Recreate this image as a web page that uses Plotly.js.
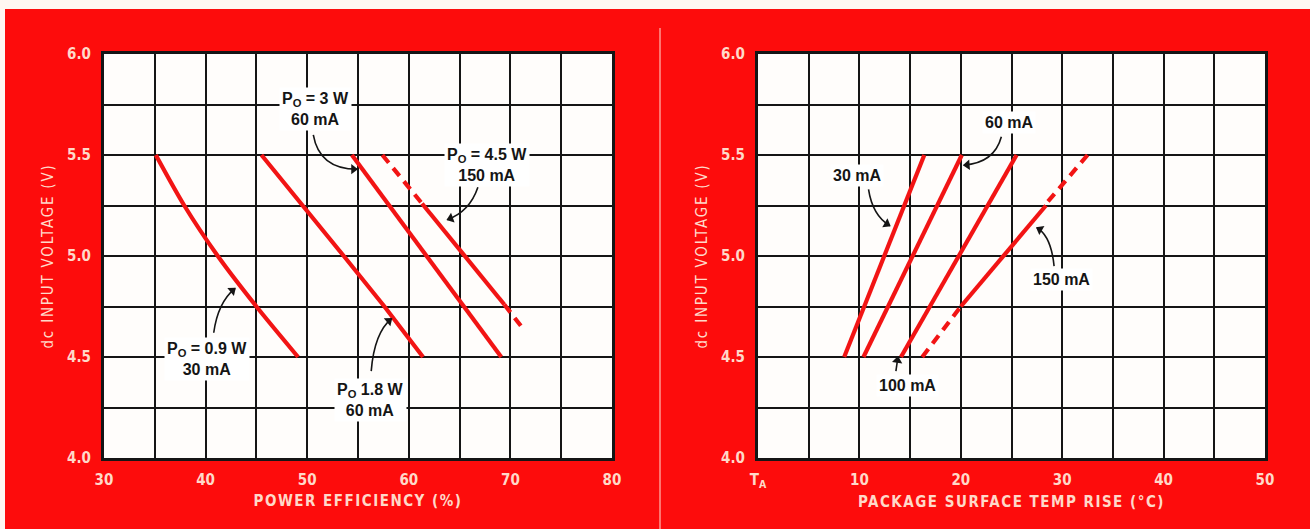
<!DOCTYPE html>
<html>
<head>
<meta charset="utf-8">
<script src="https://cdn.plot.ly/plotly-3.0.1.min.js"></script>
<style>
  html, body { margin: 0; padding: 0; background: #ffffff; }
  #chart { width: 1310px; height: 529px; }
  .xtitle, .x2title { letter-spacing: 1.5px; }
  .ytitle, .y2title { letter-spacing: 1.8px; }
</style>
</head>
<body>
<div id="chart"></div>
<script>
// ---------- Data ----------
// Left panel: dc input voltage vs power efficiency (%)
const voltLevels   = [5.5, 5.25, 5.0, 4.75, 4.5];
const eff_09W      = [35.1, 37.9, 41.2, 45.0, 49.1];       // Po = 0.9 W, 30 mA
const eff_18W      = [45.5, 49.6, 53.6, 57.6, 61.4];       // Po = 1.8 W, 60 mA
const eff_3W       = [54.4, 58.1, 61.8, 65.5, 69.1];       // Po = 3 W, 60 mA
const eff_45W_dashTopX = [57.4, 61.3];  const eff_45W_dashTopY = [5.5, 5.26];
const eff_45W_solidX   = [61.3, 69.4];  const eff_45W_solidY   = [5.26, 4.76];
const eff_45W_dashBotX = [69.4, 71.4];  const eff_45W_dashBotY = [4.76, 4.63];

// Right panel: dc input voltage vs package surface temp rise (°C)
const tempVolt     = [4.5, 5.5];
const temp_30mA    = [8.5, 16.4];
const temp_60mA    = [10.4, 20.1];
const temp_100mA   = [14.1, 25.5];
const temp_150_dashLowX = [16.2, 20.0]; const temp_150_dashLowY = [4.5, 4.75];
const temp_150_solidX   = [20.0, 28.4]; const temp_150_solidY   = [4.75, 5.25];
const temp_150_dashHiX  = [28.6, 32.5]; const temp_150_dashHiY  = [5.27, 5.5];

// Tick labels
const effTicks   = [30, 40, 50, 60, 70, 80];
const tempTicks  = [0, 10, 20, 30, 40, 50];
const tempTickText = ['T<sub>A</sub>', '10', '20', '30', '40', '50'];
const voltTicks  = [4.0, 4.5, 5.0, 5.5, 6.0];
const voltTickText = ['4.0', '4.5', '5.0', '5.5', '6.0'];

// Curve labels: [text, x, y, axis]
const curveLabels = [
  ['P<sub>O</sub> = 3 W<br>60 mA',     50.8, 5.727, 'x'],
  ['P<sub>O</sub> = 4.5 W<br>150 mA',  67.7, 5.449, 'x'],
  ['P<sub>O</sub> = 0.9 W<br>30 mA',   40.1, 4.49,  'x'],
  ['P<sub>O</sub> 1.8 W<br>60 mA',     56.2, 4.288, 'x'],
  ['60 mA',   24.8, 5.66,  'x2'],
  ['30 mA',    9.8, 5.40,  'x2'],
  ['100 mA',  14.7, 4.36,  'x2'],
  ['150 mA',  29.9, 4.886, 'x2']
];
// Pointer arrows: [startX, startY, ctrlX, ctrlY, endX, endY, axis]
const pointers = [
  [50.6, 5.60, 51.2, 5.43, 54.9, 5.43, 'x'],
  [66.8, 5.34, 66.0, 5.22, 63.8, 5.18, 'x'],
  [40.8, 4.62, 41.2, 4.77, 42.9, 4.84, 'x'],
  [56.3, 4.43, 56.6, 4.62, 58.3, 4.69, 'x'],
  [24.0, 5.59, 23.3, 5.46, 20.3, 5.45, 'x2'],
  [10.9, 5.33, 11.3, 5.20, 13.0, 5.15, 'x2'],
  [13.6, 4.43, 13.7, 4.465, 13.8, 4.50, 'x2'],
  [29.2, 4.95, 28.9, 5.10, 27.5, 5.14, 'x2']
];

// ---------- Styles ----------
const RED_BG = '#fd0c0c';
const CURVE = '#f21414';
const INK = '#151515';
const AXIS_TXT = '#ffd9c9';
const FAM = "'DejaVu Sans Condensed', 'Liberation Sans Narrow', 'Roboto', sans-serif";
const LBL_FAM = "'Liberation Sans', Arial, sans-serif";

// plot geometry (px per data unit) used to orient the arrowheads
const PW = 1161, PH = 404, ML = 104, MB = 71, H = 529;
const SX = 508 / 50, SY = PH / 2;

function line(x, y, xa, ya, dashed, smooth) {
  return {
    x: x, y: y, xaxis: xa, yaxis: ya, type: 'scatter', mode: 'lines',
    line: {color: CURVE, width: 4.2, dash: dashed ? '10px,7px' : 'solid',
           shape: smooth ? 'spline' : 'linear', smoothing: 0.8},
    hoverinfo: 'skip', showlegend: false
  };
}

const traces = [
  line(eff_09W, voltLevels, 'x', 'y', false, true),
  line(eff_18W, voltLevels, 'x', 'y'),
  line(eff_3W, voltLevels, 'x', 'y'),
  line(eff_45W_dashTopX, eff_45W_dashTopY, 'x', 'y', true),
  line(eff_45W_solidX, eff_45W_solidY, 'x', 'y'),
  line(eff_45W_dashBotX, eff_45W_dashBotY, 'x', 'y', true),
  line(temp_30mA, tempVolt, 'x2', 'y2'),
  line(temp_60mA, tempVolt, 'x2', 'y2'),
  line(temp_100mA, tempVolt, 'x2', 'y2'),
  line(temp_150_dashLowX, temp_150_dashLowY, 'x2', 'y2', true),
  line(temp_150_solidX, temp_150_solidY, 'x2', 'y2'),
  line(temp_150_dashHiX, temp_150_dashHiY, 'x2', 'y2', true)
];

// arrowheads as oriented triangle markers at the pointer tips
['x', 'x2'].forEach(xa => {
  const hx = [], hy = [], ang = [];
  pointers.filter(p => p[6] === xa).forEach(p => {
    const [sx, sy, cx, cy, ex, ey] = p;
    let ux = (ex - cx) * SX, uy = (ey - cy) * SY;
    const n = Math.hypot(ux, uy); ux /= n; uy /= n;
    hx.push(ex - ux * 3.5 / SX);
    hy.push(ey - uy * 3.5 / SY);
    ang.push(Math.atan2(ux, uy) * 180 / Math.PI);
  });
  traces.push({
    x: hx, y: hy, xaxis: xa, yaxis: xa === 'x' ? 'y' : 'y2', type: 'scatter', mode: 'markers',
    marker: {symbol: 'triangle-up', size: 9, color: INK, angle: ang, line: {width: 0}},
    hoverinfo: 'skip', showlegend: false, cliponaxis: false
  });
});

const tickFont = {family: FAM, size: 15, color: AXIS_TXT, weight: 'bold'};
const titleFont = {family: FAM, size: 15, color: AXIS_TXT, weight: 'bold'};
const yTitleFont = {family: FAM, size: 15, color: AXIS_TXT, weight: 'normal'};

function xAxis(domain, range, tickvals, ticktext, title, anchor) {
  return {
    domain: domain, range: range, anchor: anchor,
    tickmode: 'array', tickvals: tickvals, ticktext: ticktext,
    showgrid: true, gridcolor: INK, gridwidth: 2,
    minor: {dtick: 5, tick0: range[0], showgrid: true, gridcolor: INK, gridwidth: 2, ticks: ''},
    showline: true, mirror: true, linecolor: INK, linewidth: 3,
    zeroline: false, ticks: '', ticklabelstandoff: 6,
    tickfont: tickFont, fixedrange: true,
    title: {text: title, font: titleFont, standoff: 8}
  };
}
function yAxis(anchor) {
  return {
    domain: [0, 1], range: [4, 6], anchor: anchor,
    tickmode: 'array', tickvals: voltTicks, ticktext: voltTickText,
    showgrid: true, gridcolor: INK, gridwidth: 2,
    minor: {dtick: 0.25, tick0: 4, showgrid: true, gridcolor: INK, gridwidth: 2, ticks: ''},
    showline: true, mirror: true, linecolor: INK, linewidth: 3,
    zeroline: false, ticks: '', ticklabelstandoff: 7,
    tickfont: tickFont, fixedrange: true,
    title: {text: 'dc INPUT VOLTAGE (V)', font: yTitleFont, standoff: 10}
  };
}

const shapes = [];
const annotations = [];

// curved pointer bodies
pointers.forEach(p => {
  const [sx, sy, cx, cy, ex, ey, xa] = p;
  const ya = xa === 'x' ? 'y' : 'y2';
  shapes.push({
    type: 'path', xref: xa, yref: ya, layer: 'above',
    path: `M ${sx},${sy} Q ${cx},${cy} ${ex},${ey}`,
    line: {color: INK, width: 1.6}
  });
});

curveLabels.forEach(l => {
  const [t, x, y, xa] = l;
  annotations.push({
    xref: xa, yref: xa === 'x' ? 'y' : 'y2', x: x, y: y, text: t,
    showarrow: false, bgcolor: '#ffffff', borderpad: 2,
    font: {family: LBL_FAM, size: 16, color: INK, weight: 'bold'},
    align: 'center'
  });
});

// page decorations (white scan edges and panel divider)
const px = v => (v - ML) / PW;
const py = v => (H - MB - v) / PH;
shapes.push({type: 'rect', xref: 'paper', yref: 'paper', x0: px(-5), x1: px(1320), y0: py(9), y1: py(-5),
  fillcolor: '#fff7f2', line: {width: 0}, layer: 'above'});
shapes.push({type: 'rect', xref: 'paper', yref: 'paper', x0: px(-5), x1: px(5), y0: py(535), y1: py(-5),
  fillcolor: '#fff7f2', line: {width: 0}, layer: 'above'});
shapes.push({type: 'line', xref: 'paper', yref: 'paper', x0: px(660), x1: px(660), y0: py(28), y1: py(535),
  line: {color: 'rgba(255,200,190,0.75)', width: 1.5}, layer: 'above'});

const layout = {
  width: 1310, height: 529,
  margin: {l: 104, r: 45, t: 54, b: 71, pad: 0},
  paper_bgcolor: RED_BG, plot_bgcolor: '#fffdfb',
  showlegend: false,
  xaxis: xAxis([0, px(612)], [30, 80], effTicks, effTicks.map(String), 'POWER EFFICIENCY (%)', 'y'),
  xaxis2: xAxis([px(758), 1], [0, 50], tempTicks, tempTickText, 'PACKAGE SURFACE TEMP RISE (°C)', 'y2'),
  yaxis: yAxis('x'),
  yaxis2: yAxis('x2'),
  shapes: shapes,
  annotations: annotations
};

Plotly.newPlot('chart', traces, layout, {displayModeBar: false, staticPlot: true});
</script>
</body>
</html>
